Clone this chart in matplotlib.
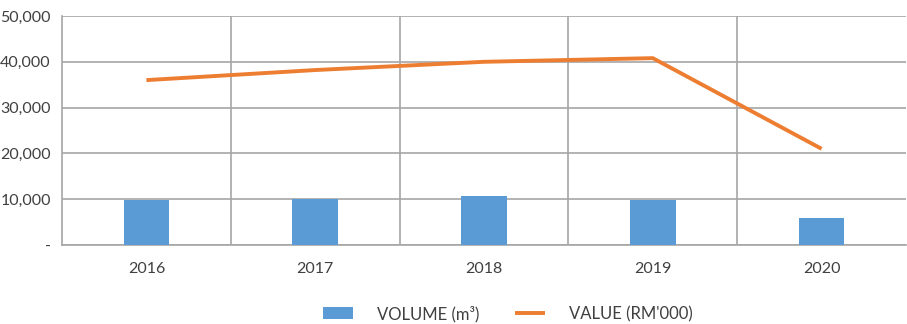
import matplotlib.pyplot as plt
from matplotlib.ticker import FuncFormatter

plt.rcParams['font.family'] = ['Lato', 'DejaVu Sans']

years = ['2016', '2017', '2018', '2019', '2020']
volume = [9900, 10000, 10600, 9900, 5800]
value = [36000, 38200, 40000, 40800, 21000]

fig = plt.figure(figsize=(9.07, 3.24), dpi=100)
ax = fig.add_axes([62 / 907, 1 - 245 / 324, 844 / 907, 229 / 324])

x = range(len(years))
bars = ax.bar(x, volume, width=0.27, color='#5B9BD5', label='VOLUME (m³)', zorder=3)
line, = ax.plot(x, value, color='#ED7D31', linewidth=2.8, label="VALUE (RM'000)",
                solid_capstyle='butt', zorder=4)

ax.set_xlim(-0.5, len(years) - 0.5)
ax.set_ylim(0, 50000)
ax.set_yticks(range(0, 50001, 10000))
ax.yaxis.set_major_formatter(FuncFormatter(lambda v, p: '-' if v == 0 else f'{int(v):,}'))
ax.set_xticks(list(x))
ax.set_xticklabels(years)

# category separators
for b in [0.5, 1.5, 2.5, 3.5]:
    ax.axvline(b, color='#A6A6A6', linewidth=1.2, zorder=1)
ax.grid(axis='y', color='#A6A6A6', linewidth=1.2, zorder=1)

for s in ['top', 'right']:
    ax.spines[s].set_visible(False)
for s in ['left', 'bottom']:
    ax.spines[s].set_color('#A6A6A6')
    ax.spines[s].set_linewidth(1.2)
ax.tick_params(length=0, labelsize=11.5, colors='#404040')
ax.tick_params(axis='y', pad=8)
ax.tick_params(axis='x', pad=12)

fig.legend([bars, line], ['VOLUME (m³)', "VALUE (RM'000)"],
           loc='lower center', bbox_to_anchor=(0.56, -0.04), ncol=2, frameon=False,
           fontsize=12, labelcolor='#404040', handlelength=1.8, handleheight=0.7,
           columnspacing=2.1, handletextpad=1.45)

fig.savefig('out.png', dpi=100)
